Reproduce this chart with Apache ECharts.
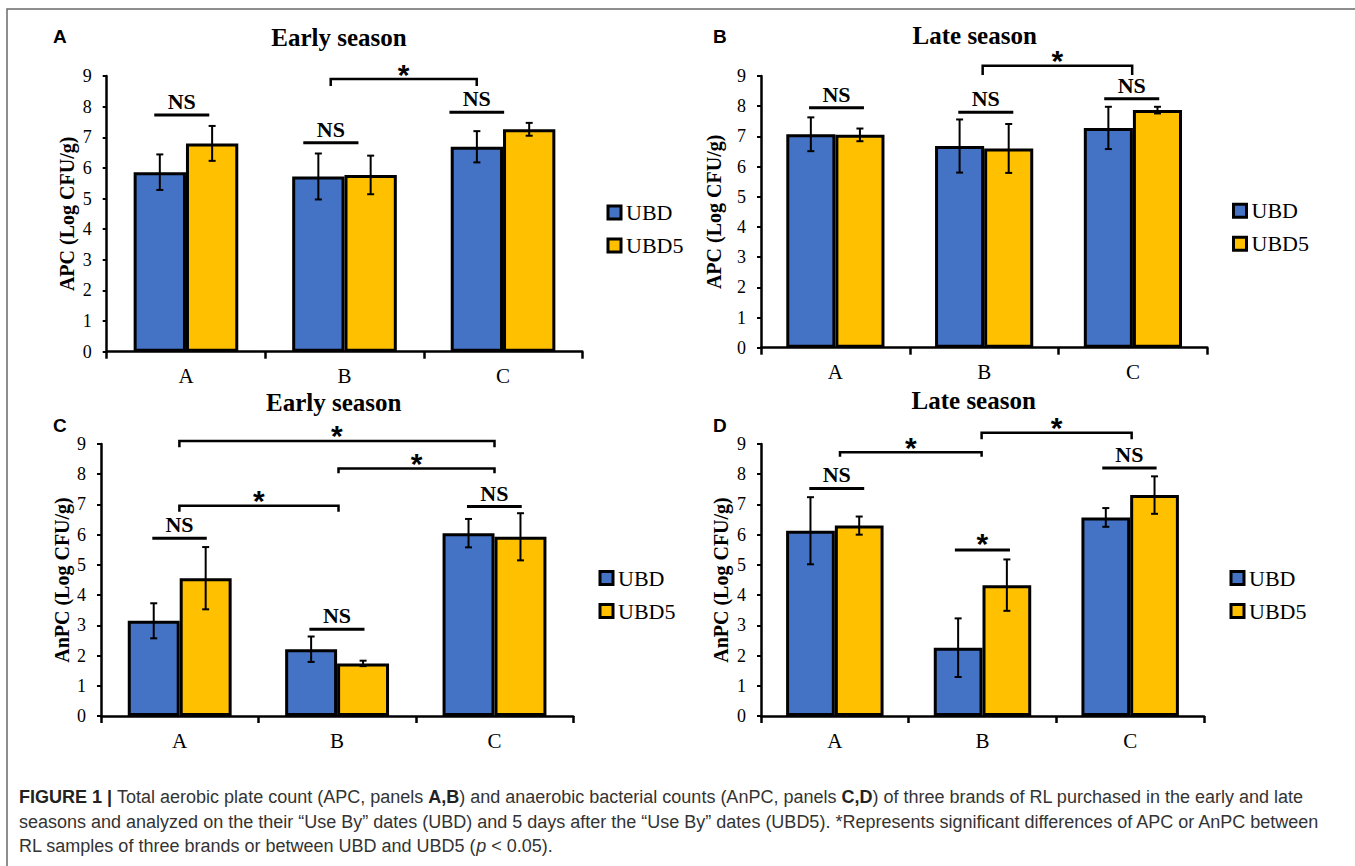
<!DOCTYPE html>
<html>
<head>
<meta charset="utf-8">
<script src="https://cdn.jsdelivr.net/npm/echarts@6/dist/echarts.min.js"></script>
<style>
html,body{margin:0;padding:0;background:#fff;}
#chart{width:1355px;height:866px;}
</style>
</head>
<body>
<div id="chart"></div>
<script>
// ---------- DATA ----------
const categories = ['A', 'B', 'C'];
const seriesNames = ['UBD', 'UBD5'];
const yMin = 0, yMax = 9, yInterval = 1;

// Panel A: APC, early season
const apcEarlyUBD = [5.86, 5.72, 6.69];
const apcEarlyUBD5 = [6.80, 5.77, 7.26];
const apcEarlyUBDErr = [0.58, 0.75, 0.51];
const apcEarlyUBD5Err = [0.57, 0.63, 0.21];
// Panel B: APC, late season
const apcLateUBD = [7.07, 6.68, 7.28];
const apcLateUBD5 = [7.05, 6.60, 7.87];
const apcLateUBDErr = [0.56, 0.88, 0.70];
const apcLateUBD5Err = [0.21, 0.81, 0.11];
// Panel C: AnPC, early season
const anpcEarlyUBD = [3.15, 2.21, 6.05];
const anpcEarlyUBD5 = [4.56, 1.74, 5.93];
const anpcEarlyUBDErr = [0.58, 0.42, 0.47];
const anpcEarlyUBD5Err = [1.03, 0.09, 0.78];
// Panel D: AnPC, late season
const anpcLateUBD = [6.13, 2.26, 6.57];
const anpcLateUBD5 = [6.30, 4.33, 7.31];
const anpcLateUBDErr = [1.11, 0.97, 0.31];
const anpcLateUBD5Err = [0.30, 0.85, 0.62];

// Significance annotations (x in category units, 0 = centre of A; y in Log CFU/g)
const annoA = [
  {x1: -0.200, x2: 0.147, y: 7.73, text: 'NS'},
  {x1: 0.740, x2: 1.088, y: 6.82, text: 'NS'},
  {x1: 1.662, x2: 2.007, y: 7.82, text: 'NS'},
  {x1: 0.913, x2: 1.834, y: 8.90, leg: 8.67, text: '*'}
];
const annoB = [
  {x1: -0.177, x2: 0.192, y: 7.95, text: 'NS'},
  {x1: 0.826, x2: 1.196, y: 7.80, text: 'NS'},
  {x1: 1.807, x2: 2.177, y: 8.25, text: 'NS'},
  {x1: 0.990, x2: 1.995, y: 9.34, leg: 9.03, text: '*'}
];
const annoC = [
  {x1: -0.174, x2: 0.172, y: 5.88, text: 'NS'},
  {x1: 0.824, x2: 1.174, y: 2.87, text: 'NS'},
  {x1: 1.825, x2: 2.173, y: 6.93, text: 'NS'},
  {x1: -0.002, x2: 1.009, y: 6.96, leg: 6.76, text: '*'},
  {x1: 1.009, x2: 2.000, y: 8.19, leg: 8.03, text: '*'},
  {x1: -0.002, x2: 2.000, y: 9.10, leg: 8.89, text: '*'}
];
const annoD = [
  {x1: -0.173, x2: 0.199, y: 7.53, text: 'NS'},
  {x1: 0.813, x2: 1.186, y: 5.49, text: '*'},
  {x1: 1.811, x2: 2.179, y: 8.21, text: 'NS'},
  {x1: 0.035, x2: 0.994, y: 8.73, leg: 8.58, text: '*'},
  {x1: 0.994, x2: 2.010, y: 9.37, leg: 9.16, text: '*'}
];

const panelTitles = ['Early season', 'Late season', 'Early season', 'Late season'];
const panelLetters = ['A', 'B', 'C', 'D'];
const yNames = ['APC (Log CFU/g)', 'APC (Log CFU/g)', 'AnPC (Log CFU/g)', 'AnPC (Log CFU/g)'];

const captionLines = [
  '{b|FIGURE 1 | }Total aerobic plate count (APC, panels {b|A,B}) and anaerobic bacterial counts (AnPC, panels {b|C,D}) of three brands of RL purchased in the early and late',
  'seasons and analyzed on the their \u201cUse By\u201d dates (UBD) and 5 days after the \u201cUse By\u201d dates (UBD5). *Represents significant differences of APC or AnPC between',
  'RL samples of three brands or between UBD and UBD5 ({i|p} < 0.05).'
];

// ---------- BUILD ----------
const panels = [
  {means: [apcEarlyUBD, apcEarlyUBD5], errs: [apcEarlyUBDErr, apcEarlyUBD5Err], annos: annoA},
  {means: [apcLateUBD, apcLateUBD5], errs: [apcLateUBDErr, apcLateUBD5Err], annos: annoB},
  {means: [anpcEarlyUBD, anpcEarlyUBD5], errs: [anpcEarlyUBDErr, anpcEarlyUBD5Err], annos: annoC},
  {means: [anpcLateUBD, anpcLateUBD5], errs: [anpcLateUBDErr, anpcLateUBD5Err], annos: annoD}
];

const layouts = [
  {left: 106.7, top: 76, width: 475.6, height: 275.7, nameGap: 30, legLeft: 606.5, legTop: 201.5, titleX: 339, titleY: 37, letterX: 53, letterY: 36.5},
  {left: 761, top: 76, width: 446.3, height: 271.7, nameGap: 37, legLeft: 1232, legTop: 199.7, titleX: 974.7, titleY: 35, letterX: 713, letterY: 36},
  {left: 101, top: 444, width: 472.2, height: 272, nameGap: 29, legLeft: 598.5, legTop: 567, titleX: 333.8, titleY: 402.5, letterX: 53, letterY: 425},
  {left: 761, top: 444, width: 443, height: 272, nameGap: 30, legLeft: 1229.5, legTop: 567, titleX: 973.7, titleY: 400.5, letterX: 713, letterY: 425}
];

const SERIF = '"Liberation Serif", "Times New Roman", serif';
const SANS = '"Liberation Sans", Arial, sans-serif';
const COLORS = ['#4472C4', '#FFC000'];
const CAT_GAP = 0.34;
const BAR_OFFSET = (1 - CAT_GAP) / 4;

function errRender(params, api) {
  const j = api.value(0), m = api.value(1), e = api.value(2), k = api.value(3);
  const band = api.size([1, 0])[0];
  const cx = api.coord([j, m])[0] + (k === 0 ? -1 : 1) * BAR_OFFSET * band;
  const yTop = api.coord([j, m + e])[1];
  const yBot = api.coord([j, m - e])[1];
  const cap = 3.5;
  const st = {stroke: '#000', lineWidth: 2};
  return {type: 'group', children: [
    {type: 'line', shape: {x1: cx, y1: yTop, x2: cx, y2: yBot}, style: st},
    {type: 'line', shape: {x1: cx - cap, y1: yTop, x2: cx + cap, y2: yTop}, style: st},
    {type: 'line', shape: {x1: cx - cap, y1: yBot, x2: cx + cap, y2: yBot}, style: st}
  ]};
}

function annoRender(list) {
  return function (params, api) {
    const a = list[params.dataIndex];
    const band = api.size([1, 0])[0];
    const x0 = api.coord([0, 0])[0];
    const px = v => x0 + v * band;
    const py = v => api.coord([0, v])[1];
    const y = py(a.y);
    const xa = px(a.x1), xb = px(a.x2);
    const children = [];
    if (a.leg != null) {
      const yl = py(a.leg);
      children.push({type: 'polyline', shape: {points: [[xa, yl], [xa, y], [xb, y], [xb, yl]]},
        style: {stroke: '#000', lineWidth: 2.5, fill: null, lineJoin: 'miter'}});
    } else {
      children.push({type: 'line', shape: {x1: xa, y1: y, x2: xb, y2: y}, style: {stroke: '#000', lineWidth: 3}});
    }
    const cx = (xa + xb) / 2;
    if (a.text === 'NS') {
      children.push({type: 'text', style: {text: 'NS', x: cx, y: y - 2.5, align: 'center', verticalAlign: 'bottom',
        fontFamily: SERIF, fontWeight: 'bold', fontSize: 22, fill: '#000'}});
    } else {
      const up = a.leg != null ? 5 : 6.5;
      children.push({type: 'text', style: {text: '*', x: cx, y: y - up, align: 'center', verticalAlign: 'middle',
        fontFamily: SANS, fontWeight: 'bold', fontSize: 30, fill: '#000'}});
    }
    return {type: 'group', children: children};
  };
}

const grids = [], xAxes = [], yAxes = [], series = [], legends = [], graphics = [];

panels.forEach((p, i) => {
  const L = layouts[i];
  grids.push({left: L.left, top: L.top, width: L.width, height: L.height, containLabel: false});
  xAxes.push({
    type: 'category', gridIndex: i, data: categories,
    axisLine: {show: true, lineStyle: {color: '#000', width: 2.5}},
    axisTick: {show: true, length: 7, lineStyle: {color: '#000', width: 2.5}},
    axisLabel: {fontFamily: SERIF, fontSize: 21, color: '#000', margin: 14},
    splitLine: {show: false}
  });
  yAxes.push({
    type: 'value', gridIndex: i, min: yMin, max: yMax, interval: yInterval,
    name: yNames[i], nameLocation: 'middle', nameGap: L.nameGap,
    nameTextStyle: {fontFamily: SERIF, fontWeight: 'bold', fontSize: 20, color: '#000'},
    axisLine: {show: true, lineStyle: {color: '#000', width: 2.5}},
    axisTick: {show: true, length: 4, lineStyle: {color: '#000', width: 2}},
    axisLabel: {fontFamily: SERIF, fontSize: 18, color: '#000', margin: 15},
    splitLine: {show: false}
  });
  seriesNames.forEach((nm, k) => {
    series.push({
      type: 'bar', name: nm, xAxisIndex: i, yAxisIndex: i, data: p.means[k],
      barGap: '0%', barCategoryGap: (CAT_GAP * 100) + '%',
      itemStyle: {color: COLORS[k], borderColor: '#000', borderWidth: 3},
      silent: true, animation: false
    });
  });
  const errData = [];
  seriesNames.forEach((nm, k) => categories.forEach((c, j) => errData.push([j, p.means[k][j], p.errs[k][j], k])));
  series.push({type: 'custom', xAxisIndex: i, yAxisIndex: i, data: errData, encode: {x: 0, y: 1},
    renderItem: errRender, silent: true, z: 5, animation: false});
  series.push({type: 'custom', xAxisIndex: i, yAxisIndex: i, data: p.annos.map(a => [0, a.y]), encode: {x: 0, y: 1},
    renderItem: annoRender(p.annos), silent: true, z: 5, animation: false, clip: false});
  legends.push({
    orient: 'vertical', left: L.legLeft, top: L.legTop, padding: 0,
    itemWidth: 13, itemHeight: 13, itemGap: 11, icon: 'rect',
    itemStyle: {borderColor: '#000', borderWidth: 3},
    textStyle: {fontFamily: SERIF, fontSize: 22, color: '#000', lineHeight: 22},
    selectedMode: false, data: seriesNames
  });
  graphics.push({type: 'text', x: L.titleX, y: L.titleY, silent: true,
    style: {text: panelTitles[i], align: 'center', verticalAlign: 'middle', fontFamily: SERIF, fontWeight: 'bold', fontSize: 25, fill: '#000'}});
  graphics.push({type: 'text', x: L.letterX, y: L.letterY, silent: true,
    style: {text: panelLetters[i], align: 'left', verticalAlign: 'middle', fontFamily: SANS, fontWeight: 'bold', fontSize: 19, fill: '#000'}});
});

// frame
graphics.push({type: 'polyline', silent: true, shape: {points: [[7, 866], [7, 9], [1355, 9]]},
  style: {stroke: '#6a6a6a', lineWidth: 1.5, fill: null}});

// caption
const captionY = [797, 822, 846];
captionLines.forEach((t, i) => {
  graphics.push({type: 'text', x: 19, y: captionY[i], silent: true,
    style: {text: t, align: 'left', verticalAlign: 'middle', fontFamily: SANS, fontSize: 18, fill: '#333',
      rich: {
        b: {fontFamily: SANS, fontSize: 18, fontWeight: 'bold', fill: '#222'},
        i: {fontFamily: SANS, fontSize: 18, fontStyle: 'italic', fill: '#333'}
      }}});
});

const chart = echarts.init(document.getElementById('chart'), null, {renderer: 'svg', width: 1355, height: 866});
chart.setOption({
  animation: false,
  backgroundColor: '#fff',
  grid: grids,
  xAxis: xAxes,
  yAxis: yAxes,
  legend: legends,
  series: series,
  graphic: graphics
});
</script>
</body>
</html>
